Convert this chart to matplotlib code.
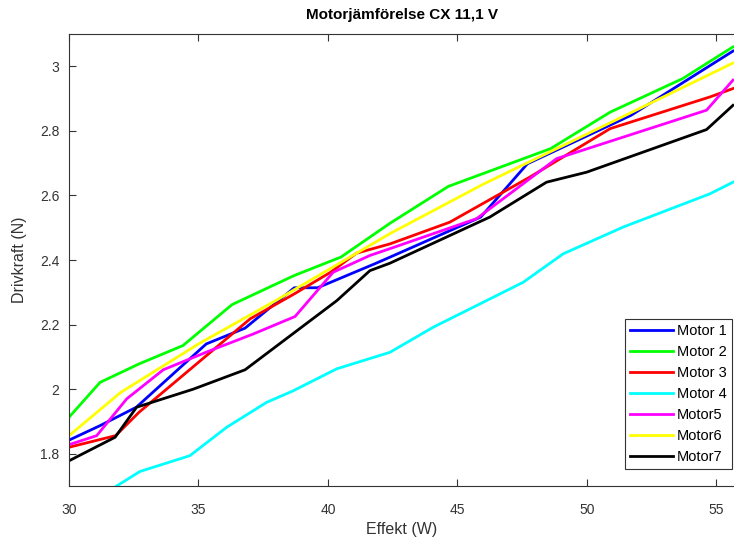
import matplotlib.pyplot as plt

plt.rcParams["font.family"] = ["Liberation Sans", "DejaVu Sans"]

# Motor data: effekt (W) and drivkraft (N)
m1_x = [30.0, 31.2, 32.6, 35.3, 36.8, 38.7, 39.6, 41.8, 42.4, 45.9, 47.7, 51.7, 55.64]
m1_y = [1.842, 1.887, 1.944, 2.14, 2.189, 2.314, 2.314, 2.388, 2.409, 2.533, 2.698, 2.848, 3.047]

m2_x = [30.0, 31.2, 32.7, 34.4, 36.3, 38.7, 40.5, 42.4, 44.65, 48.6, 50.9, 53.7, 55.64]
m2_y = [1.913, 2.021, 2.078, 2.135, 2.262, 2.352, 2.409, 2.514, 2.628, 2.745, 2.858, 2.962, 3.06]

m3_x = [30.0, 31.8, 32.7, 37.0, 38.7, 40.1, 41.1, 42.4, 44.7, 47.8, 50.9, 54.75, 55.64]
m3_y = [1.82, 1.856, 1.928, 2.218, 2.295, 2.362, 2.421, 2.45, 2.517, 2.657, 2.807, 2.905, 2.931]

m4_x = [30.6, 31.84, 32.74, 34.67, 36.09, 37.63, 38.66, 40.34, 42.39, 44.07, 47.54, 49.08, 51.4, 54.75, 55.64]
m4_y = [1.64, 1.70, 1.745, 1.794, 1.882, 1.959, 1.995, 2.063, 2.114, 2.192, 2.331, 2.419, 2.502, 2.605, 2.641]

m5_x = [30.0, 31.07, 32.23, 33.64, 35.44, 37.12, 38.73, 40.2, 41.62, 42.39, 45.74, 48.83, 54.62, 55.64]
m5_y = [1.828, 1.856, 1.97, 2.06, 2.119, 2.171, 2.225, 2.362, 2.414, 2.435, 2.528, 2.714, 2.864, 2.957]

m6_x = [30.0, 32.0, 35.0, 38.0, 42.4, 46.0, 50.0, 55.64]
m6_y = [1.856, 1.99, 2.14, 2.275, 2.482, 2.635, 2.79, 3.01]

m7_x = [30.0, 31.78, 32.61, 34.8, 36.8, 40.34, 41.62, 42.39, 46.25, 48.44, 49.99, 54.62, 55.64]
m7_y = [1.778, 1.851, 1.944, 2.0, 2.06, 2.274, 2.367, 2.39, 2.533, 2.641, 2.672, 2.804, 2.879]

labels = ["Motor 1", "Motor 2", "Motor 3", "Motor 4", "Motor5", "Motor6", "Motor7"]
colors = ["#0000ff", "#00ff00", "#ff0000", "#00ffff", "#ff00ff", "#ffff00", "#000000"]

fig = plt.figure(figsize=(7.34, 5.43), dpi=100)
ax = fig.add_axes([69 / 734, 57 / 543, 665 / 734, 452 / 543])

series = [(m1_x, m1_y), (m2_x, m2_y), (m3_x, m3_y), (m4_x, m4_y),
          (m5_x, m5_y), (m6_x, m6_y), (m7_x, m7_y)]
for (xs, ys), lab, col in zip(series, labels, colors):
    ax.plot(xs, ys, color=col, linewidth=2, label=lab)

ax.set_xlim(30, 55.68)
ax.set_ylim(1.7, 3.1)
ax.set_xticks([30, 35, 40, 45, 50, 55])
ax.set_yticks([1.8, 2, 2.2, 2.4, 2.6, 2.8, 3])
ax.set_yticklabels(["1.8", "2", "2.2", "2.4", "2.6", "2.8", "3"])

ax.tick_params(direction="in", top=True, right=False, length=5,
               labelsize=10, colors="#333333", width=0.8)
ax.tick_params(axis="x", pad=12)
ax.tick_params(axis="y", pad=7)
for name in ["left", "bottom", "top"]:
    ax.spines[name].set_color("#333333")
    ax.spines[name].set_linewidth(0.8)
ax.spines["right"].set_visible(False)

ax.set_xlabel("Effekt (W)", fontsize=11.5, color="#333333", labelpad=4)
ax.set_ylabel("Drivkraft (N)", fontsize=11.5, color="#333333", labelpad=9)
ax.set_title("Motorjämförelse CX 11,1 V", fontsize=11, fontweight="bold", pad=11)

leg = ax.legend(loc="lower right", bbox_to_anchor=(732 / 734, (543 - 469) / 543),
                bbox_transform=fig.transFigure, fontsize=10.5, fancybox=False,
                framealpha=1, edgecolor="#333333", handlelength=2.9,
                handletextpad=0.3, labelspacing=0.48, borderpad=0.35,
                borderaxespad=0)
leg.get_frame().set_linewidth(0.8)

fig.savefig("out.png", dpi=100)
